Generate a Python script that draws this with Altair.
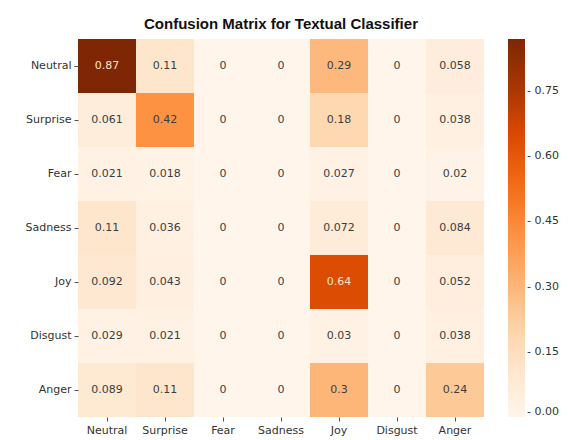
import altair as alt
import pandas as pd

classes = ["Neutral", "Surprise", "Fear", "Sadness", "Joy", "Disgust", "Anger"]

row_neutral = [0.87, 0.11, 0, 0, 0.29, 0, 0.058]
row_surprise = [0.061, 0.42, 0, 0, 0.18, 0, 0.038]
row_fear = [0.021, 0.018, 0, 0, 0.027, 0, 0.02]
row_sadness = [0.11, 0.036, 0, 0, 0.072, 0, 0.084]
row_joy = [0.092, 0.043, 0, 0, 0.64, 0, 0.052]
row_disgust = [0.029, 0.021, 0, 0, 0.03, 0, 0.038]
row_anger = [0.089, 0.11, 0, 0, 0.3, 0, 0.24]

colorbar_ticks = [0.0, 0.15, 0.30, 0.45, 0.60, 0.75]

# matplotlib "Oranges" (ColorBrewer 9-class)
oranges = ["#fff5eb", "#fee6ce", "#fdd0a2", "#fdae6b", "#fd8d3c",
           "#f16913", "#d94801", "#a63603", "#7f2704"]

rows = [row_neutral, row_surprise, row_fear, row_sadness, row_joy, row_disgust, row_anger]
records = []
for t, row in zip(classes, rows):
    for p, v in zip(classes, row):
        records.append({"true": t, "pred": p, "value": v})
df = pd.DataFrame(records)

FONT = "DejaVu Sans"

base = alt.Chart(df).encode(
    x=alt.X("pred:N", sort=classes, title=None,
            axis=alt.Axis(labelAngle=0, domain=False, grid=False, tickSize=4, tickColor="#555",
                          labelFont=FONT, labelFontSize=11, labelColor="#333",
                          labelPadding=3)),
    y=alt.Y("true:N", sort=classes, title=None,
            axis=alt.Axis(domain=False, grid=False, tickSize=4, tickColor="#555",
                          labelFont=FONT, labelFontSize=11, labelColor="#333",
                          labelPadding=3)),
)

rect = base.mark_rect(strokeWidth=0).encode(
    color=alt.Color("value:Q",
                    scale=alt.Scale(range=oranges, domain=[0, 0.87], interpolate="rgb"),
                    legend=alt.Legend(orient="none", legendX=430, legendY=0,
                                      direction="vertical", title=None,
                                      gradientLength=378, gradientThickness=17,
                                      values=colorbar_ticks, format=".2f",
                                      labelExpr="'- ' + datum.label",
                                      labelFont=FONT, labelFontSize=11,
                                      labelColor="#333", labelOffset=2,
                                      labelOverlap=False)),
)

text = base.mark_text(font=FONT, fontSize=11).encode(
    text=alt.Text("value:Q", format=".2~g"),
    color=alt.condition(alt.datum.value > 0.5, alt.value("#fbe3cf"), alt.value("#3d3d3d")),
)

chart = (rect + text).properties(
    width=406,
    height=378,
    title=alt.TitleParams("Confusion Matrix for Textual Classifier",
                          font="Liberation Sans", fontSize=15, fontWeight="bold",
                          color="#111", anchor="middle", offset=7),
    padding={"left": 70, "top": 31, "right": 76, "bottom": 30},
    autosize="none",
).configure_view(stroke=None)

chart.save("out.html", embed_options={"renderer": "svg", "actions": False})
